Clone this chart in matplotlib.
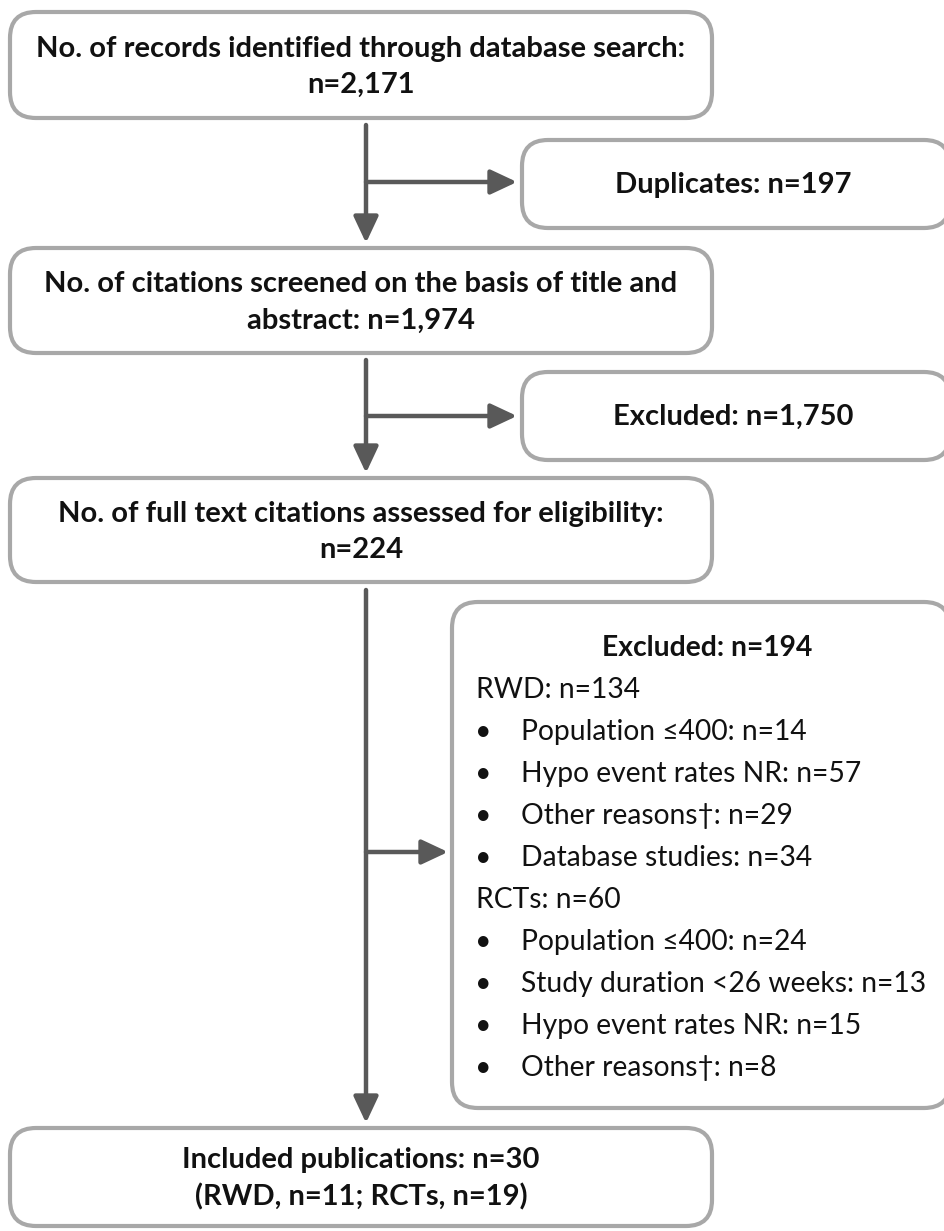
import matplotlib.pyplot as plt
from matplotlib.patches import FancyBboxPatch

plt.rcParams['font.family'] = ['Lato', 'DejaVu Sans']

# box texts
main_texts = [
    "No. of records identified through database search:\nn=2,171",
    "No. of citations screened on the basis of title and\nabstract: n=1,974",
    "No. of full text citations assessed for eligibility:\nn=224",
    "Included publications: n=30\n(RWD, n=11; RCTs, n=19)",
]
side_texts = ["Duplicates: n=197", "Excluded: n=1,750"]
excl_title = "Excluded: n=194"
excl_groups = ["RWD: n=134", "RCTs: n=60"]
rwd_reasons = ["Population \u2264400: n=14", "Hypo event rates NR: n=57",
               "Other reasons\u2020: n=29", "Database studies: n=34"]
rct_reasons = ["Population \u2264400: n=24", "Study duration <26 weeks: n=13",
               "Hypo event rates NR: n=15", "Other reasons\u2020: n=8"]

W, H = 944, 1231
fig = plt.figure(figsize=(W / 100, H / 100), dpi=100)
ax = fig.add_axes([0, 0, 1, 1])
ax.set_xlim(0, W)
ax.set_ylim(H, 0)
ax.axis('off')

edge = '#a8a8a8'
arrow_col = '#595959'
txt_col = '#111111'
fs_main = 21
fs_body = 20.3


def box(x0, y0, x1, y1):
    p = FancyBboxPatch((x0, y0), x1 - x0, y1 - y0,
                       boxstyle="round,pad=0,rounding_size=26",
                       fc='white', ec=edge, lw=3.0, zorder=2)
    ax.add_patch(p)


def arrow(x0, y0, x1, y1):
    ax.annotate('', xy=(x1, y1), xytext=(x0, y0),
                arrowprops=dict(arrowstyle='-|>,head_length=1.6,head_width=0.75',
                                color=arrow_col, lw=3.2, shrinkA=0, shrinkB=0),
                zorder=3)


# main column boxes
main_y = [(12, 118), (248, 353), (478, 582), (1128, 1226)]
for (y0, y1), t in zip(main_y, main_texts):
    box(10, y0, 712, y1)
    ax.text(361, (y0 + y1) / 2 + 2, t, ha='center', va='center', fontsize=fs_main,
            fontweight='bold', color=txt_col, linespacing=1.48, zorder=4)

# side boxes
side_y = [(140, 228), (372, 460)]
for (y0, y1), t in zip(side_y, side_texts):
    box(522, y0, 950, y1)
    ax.text(733, (y0 + y1) / 2 + 1, t, ha='center', va='center', fontsize=fs_main,
            fontweight='bold', color=txt_col, zorder=4)

# big exclusion box
box(452, 602, 950, 1108)
ax.text(707, 648, excl_title, ha='center', va='center', fontsize=fs_body,
        fontweight='bold', color=txt_col, zorder=4)
y = 690
step = 42
for grp, reasons in zip(excl_groups, [rwd_reasons, rct_reasons]):
    ax.text(476, y, grp, ha='left', va='center', fontsize=fs_body, color=txt_col, zorder=4)
    y += step
    for r in reasons:
        ax.text(483, y, '\u2022', ha='center', va='center', fontsize=fs_body,
                color=txt_col, zorder=4)
        ax.text(521, y, r, ha='left', va='center', fontsize=fs_body, color=txt_col, zorder=4)
        y += step

# arrows
arrow(366, 125, 366, 243)
arrow(366, 182, 517, 182)
arrow(366, 360, 366, 473)
arrow(366, 416, 517, 416)
arrow(366, 590, 366, 1123)
arrow(366, 852, 448, 852)

fig.savefig('out.png', dpi=100)
